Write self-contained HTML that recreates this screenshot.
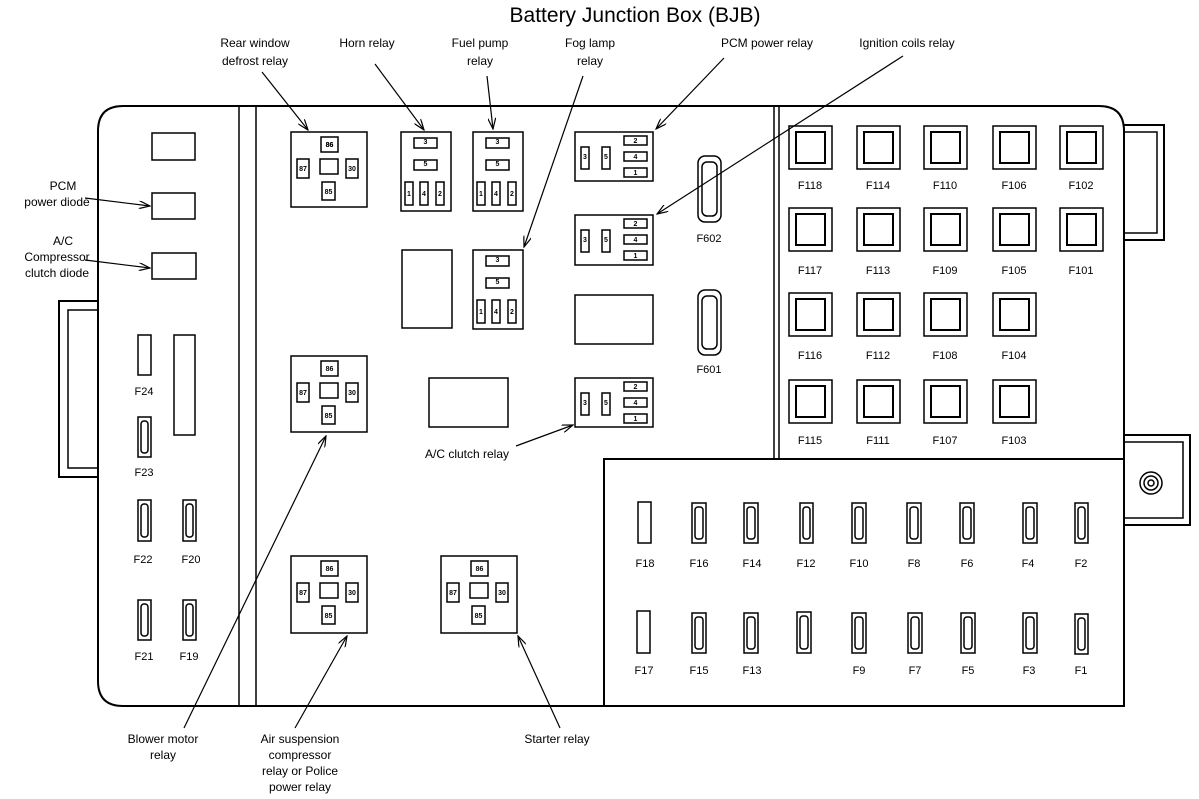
<!DOCTYPE html>
<html><head><meta charset="utf-8"><style>
html,body{margin:0;padding:0;background:#fff;width:1199px;height:799px;overflow:hidden}
svg{display:block}
text{font-family:"Liberation Sans",Arial,sans-serif;fill:#000}
.l{font-size:12px;text-anchor:middle}
.p{font-size:7px;font-weight:bold;text-anchor:middle}
.f{font-size:11px;text-anchor:middle}
</style></head><body>
<svg width="1199" height="799" viewBox="0 0 1199 799" xmlns="http://www.w3.org/2000/svg">
<defs>
<marker id="a" markerWidth="12" markerHeight="8" refX="11" refY="4" orient="auto" markerUnits="userSpaceOnUse">
<path d="M0,0 L11,4 L0,8" fill="none" stroke="#000" stroke-width="1.2"/>
</marker>
</defs>
<g fill="none" stroke="#000" stroke-width="2">
<!-- tabs -->
<rect x="59" y="301" width="40" height="176"/>
<rect x="68" y="310" width="31" height="158" stroke-width="1.5"/>
<rect x="1123" y="125" width="41" height="115"/>
<rect x="1123" y="132" width="34" height="101" stroke-width="1.5"/>
<rect x="1123" y="435" width="67" height="90"/>
<rect x="1123" y="442" width="60" height="76" stroke-width="1.5"/>
<!-- main box -->
<path d="M123,106 H1099 Q1124,106 1124,131 V706 H123 Q98,706 98,681 V131 Q98,106 123,106 Z" fill="#fff"/>
<line x1="239" y1="106" x2="239" y2="706" stroke-width="1.5"/>
<line x1="256" y1="106" x2="256" y2="706" stroke-width="1.5"/>
<line x1="774" y1="106" x2="774" y2="459" stroke-width="1.5"/>
<line x1="779" y1="106" x2="779" y2="459" stroke-width="1.5"/>
<path d="M604,706 V459 H1124" />
</g>
<!-- bolt -->
<g fill="none" stroke="#000" stroke-width="1.5">
<circle cx="1151" cy="483" r="11"/><circle cx="1151" cy="483" r="7"/><circle cx="1151" cy="483" r="3"/>
</g>
<g fill="none" stroke="#000" stroke-width="1.5">
<!-- left column -->
<rect x="152" y="133" width="43" height="27"/>
<rect x="152" y="193" width="43" height="26"/>
<rect x="152" y="253" width="44" height="26"/>
<rect x="138" y="335" width="13" height="40"/>
<rect x="174" y="335" width="21" height="100"/>
<rect x="138" y="417" width="13" height="40"/><rect x="141" y="421" width="7" height="32" rx="3"/>
<rect x="138" y="500" width="13" height="41"/><rect x="141" y="504" width="7" height="33" rx="3"/>
<rect x="183" y="500" width="13" height="41"/><rect x="186" y="504" width="7" height="33" rx="3"/>
<rect x="138" y="600" width="13" height="40"/><rect x="141" y="604" width="7" height="32" rx="3"/>
<rect x="183" y="600" width="13" height="40"/><rect x="186" y="604" width="7" height="32" rx="3"/>
<!-- empty rects middle -->
<rect x="402" y="250" width="50" height="78"/>
<rect x="429" y="378" width="79" height="49"/>
<rect x="575" y="295" width="78" height="49"/>
<!-- F602 F601 -->
<rect x="698" y="156" width="23" height="66" rx="7"/><rect x="702" y="162" width="15" height="54" rx="5"/>
<rect x="698" y="290" width="23" height="65" rx="7"/><rect x="702" y="296" width="15" height="53" rx="5"/>
</g>
<!-- 5-pin relays -->
<g id="r1" transform="translate(291,132)" fill="none" stroke="#000" stroke-width="1.5">
<rect x="0" y="0" width="76" height="75"/>
<rect x="30" y="5" width="17" height="15"/><rect x="6" y="27" width="12" height="19"/><rect x="29" y="27" width="18" height="15"/><rect x="55" y="27" width="12" height="19"/><rect x="31" y="50" width="13" height="18"/>
</g>
<g transform="translate(291,356)" fill="none" stroke="#000" stroke-width="1.5">
<rect x="0" y="0" width="76" height="76"/>
<rect x="30" y="5" width="17" height="15"/><rect x="6" y="27" width="12" height="19"/><rect x="29" y="27" width="18" height="15"/><rect x="55" y="27" width="12" height="19"/><rect x="31" y="50" width="13" height="18"/>
</g>
<g transform="translate(291,556)" fill="none" stroke="#000" stroke-width="1.5">
<rect x="0" y="0" width="76" height="77"/>
<rect x="30" y="5" width="17" height="15"/><rect x="6" y="27" width="12" height="19"/><rect x="29" y="27" width="18" height="15"/><rect x="55" y="27" width="12" height="19"/><rect x="31" y="50" width="13" height="18"/>
</g>
<g transform="translate(441,556)" fill="none" stroke="#000" stroke-width="1.5">
<rect x="0" y="0" width="76" height="77"/>
<rect x="30" y="5" width="17" height="15"/><rect x="6" y="27" width="12" height="19"/><rect x="29" y="27" width="18" height="15"/><rect x="55" y="27" width="12" height="19"/><rect x="31" y="50" width="13" height="18"/>
</g>
<g class="p">
<text x="329.5" y="147" class="p">86</text><text x="303" y="141" class="p" transform="translate(0,0)"></text>
</g>
<g>
<text class="p" x="329.5" y="147">86</text><text class="p" x="303" y="171">87</text><text class="p" x="352" y="171">30</text><text class="p" x="328.5" y="194">85</text>
<text class="p" x="329.5" y="371">86</text><text class="p" x="303" y="395">87</text><text class="p" x="352" y="395">30</text><text class="p" x="328.5" y="418">85</text>
<text class="p" x="329.5" y="571">86</text><text class="p" x="303" y="595">87</text><text class="p" x="352" y="595">30</text><text class="p" x="328.5" y="618">85</text>
<text class="p" x="479.5" y="571">86</text><text class="p" x="453" y="595">87</text><text class="p" x="502" y="595">30</text><text class="p" x="478.5" y="618">85</text>
</g>
<!-- horn-type relays -->
<g transform="translate(401,132)" fill="none" stroke="#000" stroke-width="1.5">
<rect x="0" y="0" width="50" height="79"/><rect x="13" y="6" width="23" height="10"/><rect x="13" y="28" width="23" height="10"/>
<rect x="4" y="50" width="8" height="23"/><rect x="19" y="50" width="8" height="23"/><rect x="35" y="50" width="8" height="23"/>
</g>
<g transform="translate(473,132)" fill="none" stroke="#000" stroke-width="1.5">
<rect x="0" y="0" width="50" height="79"/><rect x="13" y="6" width="23" height="10"/><rect x="13" y="28" width="23" height="10"/>
<rect x="4" y="50" width="8" height="23"/><rect x="19" y="50" width="8" height="23"/><rect x="35" y="50" width="8" height="23"/>
</g>
<g transform="translate(473,250)" fill="none" stroke="#000" stroke-width="1.5">
<rect x="0" y="0" width="50" height="79"/><rect x="13" y="6" width="23" height="10"/><rect x="13" y="28" width="23" height="10"/>
<rect x="4" y="50" width="8" height="23"/><rect x="19" y="50" width="8" height="23"/><rect x="35" y="50" width="8" height="23"/>
</g>
<g>
<text class="p" x="425.5" y="144">3</text><text class="p" x="425.5" y="166">5</text><text class="p" x="409" y="196">1</text><text class="p" x="424" y="196">4</text><text class="p" x="440" y="196">2</text>
<text class="p" x="497.5" y="144">3</text><text class="p" x="497.5" y="166">5</text><text class="p" x="481" y="196">1</text><text class="p" x="496" y="196">4</text><text class="p" x="512" y="196">2</text>
<text class="p" x="497.5" y="262">3</text><text class="p" x="497.5" y="284">5</text><text class="p" x="481" y="314">1</text><text class="p" x="496" y="314">4</text><text class="p" x="512" y="314">2</text>
</g>
<!-- PCM-type relays -->
<g transform="translate(575,132)" fill="none" stroke="#000" stroke-width="1.5">
<rect x="0" y="0" width="78" height="49"/><rect x="6" y="15" width="8" height="22"/><rect x="27" y="15" width="8" height="22"/>
<rect x="49" y="4" width="23" height="9"/><rect x="49" y="20" width="23" height="9"/><rect x="49" y="36" width="23" height="9"/>
</g>
<g transform="translate(575,215)" fill="none" stroke="#000" stroke-width="1.5">
<rect x="0" y="0" width="78" height="50"/><rect x="6" y="15" width="8" height="22"/><rect x="27" y="15" width="8" height="22"/>
<rect x="49" y="4" width="23" height="9"/><rect x="49" y="20" width="23" height="9"/><rect x="49" y="36" width="23" height="9"/>
</g>
<g transform="translate(575,378)" fill="none" stroke="#000" stroke-width="1.5">
<rect x="0" y="0" width="78" height="49"/><rect x="6" y="15" width="8" height="22"/><rect x="27" y="15" width="8" height="22"/>
<rect x="49" y="4" width="23" height="9"/><rect x="49" y="20" width="23" height="9"/><rect x="49" y="36" width="23" height="9"/>
</g>
<g>
<text class="p" x="585" y="159">3</text><text class="p" x="606" y="159">5</text><text class="p" x="635.5" y="143">2</text><text class="p" x="635.5" y="159">4</text><text class="p" x="635.5" y="175">1</text>
<text class="p" x="585" y="242">3</text><text class="p" x="606" y="242">5</text><text class="p" x="635.5" y="226">2</text><text class="p" x="635.5" y="242">4</text><text class="p" x="635.5" y="258">1</text>
<text class="p" x="585" y="405">3</text><text class="p" x="606" y="405">5</text><text class="p" x="635.5" y="389">2</text><text class="p" x="635.5" y="405">4</text><text class="p" x="635.5" y="421">1</text>
</g>
<!-- big fuses -->
<g fill="none" stroke="#000" stroke-width="1.5">
<rect x="789" y="126" width="43" height="43"/><rect x="796" y="132" width="29" height="31" stroke-width="2"/>
<rect x="857" y="126" width="43" height="43"/><rect x="864" y="132" width="29" height="31" stroke-width="2"/>
<rect x="924" y="126" width="43" height="43"/><rect x="931" y="132" width="29" height="31" stroke-width="2"/>
<rect x="993" y="126" width="43" height="43"/><rect x="1000" y="132" width="29" height="31" stroke-width="2"/>
<rect x="1060" y="126" width="43" height="43"/><rect x="1067" y="132" width="29" height="31" stroke-width="2"/>
<rect x="789" y="208" width="43" height="43"/><rect x="796" y="214" width="29" height="31" stroke-width="2"/>
<rect x="857" y="208" width="43" height="43"/><rect x="864" y="214" width="29" height="31" stroke-width="2"/>
<rect x="924" y="208" width="43" height="43"/><rect x="931" y="214" width="29" height="31" stroke-width="2"/>
<rect x="993" y="208" width="43" height="43"/><rect x="1000" y="214" width="29" height="31" stroke-width="2"/>
<rect x="1060" y="208" width="43" height="43"/><rect x="1067" y="214" width="29" height="31" stroke-width="2"/>
<rect x="789" y="293" width="43" height="43"/><rect x="796" y="299" width="29" height="31" stroke-width="2"/>
<rect x="857" y="293" width="43" height="43"/><rect x="864" y="299" width="29" height="31" stroke-width="2"/>
<rect x="924" y="293" width="43" height="43"/><rect x="931" y="299" width="29" height="31" stroke-width="2"/>
<rect x="993" y="293" width="43" height="43"/><rect x="1000" y="299" width="29" height="31" stroke-width="2"/>
<rect x="789" y="380" width="43" height="43"/><rect x="796" y="386" width="29" height="31" stroke-width="2"/>
<rect x="857" y="380" width="43" height="43"/><rect x="864" y="386" width="29" height="31" stroke-width="2"/>
<rect x="924" y="380" width="43" height="43"/><rect x="931" y="386" width="29" height="31" stroke-width="2"/>
<rect x="993" y="380" width="43" height="43"/><rect x="1000" y="386" width="29" height="31" stroke-width="2"/>
</g>
<g>
<text class="f" x="810" y="189">F118</text><text class="f" x="878" y="189">F114</text><text class="f" x="945" y="189">F110</text><text class="f" x="1014" y="189">F106</text><text class="f" x="1081" y="189">F102</text>
<text class="f" x="810" y="274">F117</text><text class="f" x="878" y="274">F113</text><text class="f" x="945" y="274">F109</text><text class="f" x="1014" y="274">F105</text><text class="f" x="1081" y="274">F101</text>
<text class="f" x="810" y="359">F116</text><text class="f" x="878" y="359">F112</text><text class="f" x="945" y="359">F108</text><text class="f" x="1014" y="359">F104</text>
<text class="f" x="810" y="444">F115</text><text class="f" x="878" y="444">F111</text><text class="f" x="945" y="444">F107</text><text class="f" x="1014" y="444">F103</text>
</g>
<!-- small fuses bottom right -->
<g fill="none" stroke="#000" stroke-width="1.5">
<rect x="638" y="502" width="13" height="41"/>
<rect x="692" y="503" width="14" height="40"/><rect x="695" y="507" width="8" height="32" rx="3"/>
<rect x="744" y="503" width="14" height="40"/><rect x="747" y="507" width="8" height="32" rx="3"/>
<rect x="800" y="503" width="13" height="40"/><rect x="803" y="507" width="7" height="32" rx="3"/>
<rect x="852" y="503" width="14" height="40"/><rect x="855" y="507" width="8" height="32" rx="3"/>
<rect x="907" y="503" width="14" height="40"/><rect x="910" y="507" width="8" height="32" rx="3"/>
<rect x="960" y="503" width="14" height="40"/><rect x="963" y="507" width="8" height="32" rx="3"/>
<rect x="1023" y="503" width="14" height="40"/><rect x="1026" y="507" width="8" height="32" rx="3"/>
<rect x="1075" y="503" width="13" height="40"/><rect x="1078" y="507" width="7" height="32" rx="3"/>
<rect x="637" y="611" width="13" height="42"/>
<rect x="692" y="613" width="14" height="40"/><rect x="695" y="617" width="8" height="32" rx="3"/>
<rect x="744" y="613" width="14" height="40"/><rect x="747" y="617" width="8" height="32" rx="3"/>
<rect x="797" y="612" width="14" height="41"/><rect x="800" y="616" width="8" height="33" rx="3"/>
<rect x="852" y="613" width="14" height="40"/><rect x="855" y="617" width="8" height="32" rx="3"/>
<rect x="908" y="613" width="14" height="40"/><rect x="911" y="617" width="8" height="32" rx="3"/>
<rect x="961" y="613" width="14" height="40"/><rect x="964" y="617" width="8" height="32" rx="3"/>
<rect x="1023" y="613" width="14" height="40"/><rect x="1026" y="617" width="8" height="32" rx="3"/>
<rect x="1075" y="614" width="13" height="40"/><rect x="1078" y="618" width="7" height="32" rx="3"/>
</g>
<g>
<text class="f" x="645" y="567">F18</text><text class="f" x="699" y="567">F16</text><text class="f" x="752" y="567">F14</text><text class="f" x="806" y="567">F12</text><text class="f" x="859" y="567">F10</text><text class="f" x="914" y="567">F8</text><text class="f" x="967" y="567">F6</text><text class="f" x="1028" y="567">F4</text><text class="f" x="1081" y="567">F2</text>
<text class="f" x="644" y="674">F17</text><text class="f" x="699" y="674">F15</text><text class="f" x="752" y="674">F13</text><text class="f" x="859" y="674">F9</text><text class="f" x="915" y="674">F7</text><text class="f" x="968" y="674">F5</text><text class="f" x="1029" y="674">F3</text><text class="f" x="1081" y="674">F1</text>
<text class="f" x="144" y="395">F24</text><text class="f" x="144" y="476">F23</text><text class="f" x="143" y="563">F22</text><text class="f" x="191" y="563">F20</text><text class="f" x="144" y="660">F21</text><text class="f" x="189" y="660">F19</text>
<text class="f" x="709" y="242">F602</text><text class="f" x="709" y="373">F601</text>
</g>
<!-- leader lines -->
<g stroke="#000" stroke-width="1.2" fill="none" marker-end="url(#a)">
<line x1="262" y1="72" x2="308" y2="130"/>
<line x1="375" y1="64" x2="424" y2="130"/>
<line x1="487" y1="76" x2="493" y2="129"/>
<line x1="583" y1="76" x2="524" y2="247"/>
<line x1="724" y1="58" x2="656" y2="129"/>
<line x1="903" y1="56" x2="657" y2="214"/>
<line x1="85" y1="198" x2="150" y2="206"/>
<line x1="85" y1="260" x2="150" y2="268"/>
<line x1="516" y1="446" x2="573" y2="425"/>
<line x1="184" y1="728" x2="326" y2="436"/>
<line x1="295" y1="728" x2="347" y2="636"/>
<line x1="560" y1="728" x2="518" y2="636"/>
</g>
<!-- labels -->
<g>
<text x="635" y="22" style="font-size:21px;text-anchor:middle">Battery Junction Box (BJB)</text>
<text class="l" x="255" y="47">Rear window</text><text class="l" x="255" y="65">defrost relay</text>
<text class="l" x="367" y="47">Horn relay</text>
<text class="l" x="480" y="47">Fuel pump</text><text class="l" x="480" y="65">relay</text>
<text class="l" x="590" y="47">Fog lamp</text><text class="l" x="590" y="65">relay</text>
<text class="l" x="767" y="47">PCM power relay</text>
<text class="l" x="907" y="47">Ignition coils relay</text>
<text class="l" x="63" y="190">PCM</text><text class="l" x="57" y="206">power diode</text>
<text class="l" x="63" y="245">A/C</text><text class="l" x="57" y="261">Compressor</text><text class="l" x="57" y="277">clutch diode</text>
<text class="l" x="467" y="458">A/C clutch relay</text>
<text class="l" x="163" y="743">Blower motor</text><text class="l" x="163" y="759">relay</text>
<text class="l" x="300" y="743">Air suspension</text><text class="l" x="300" y="759">compressor</text><text class="l" x="300" y="775">relay or Police</text><text class="l" x="300" y="791">power relay</text>
<text class="l" x="557" y="743">Starter relay</text>
</g>
</svg>
</body></html>
